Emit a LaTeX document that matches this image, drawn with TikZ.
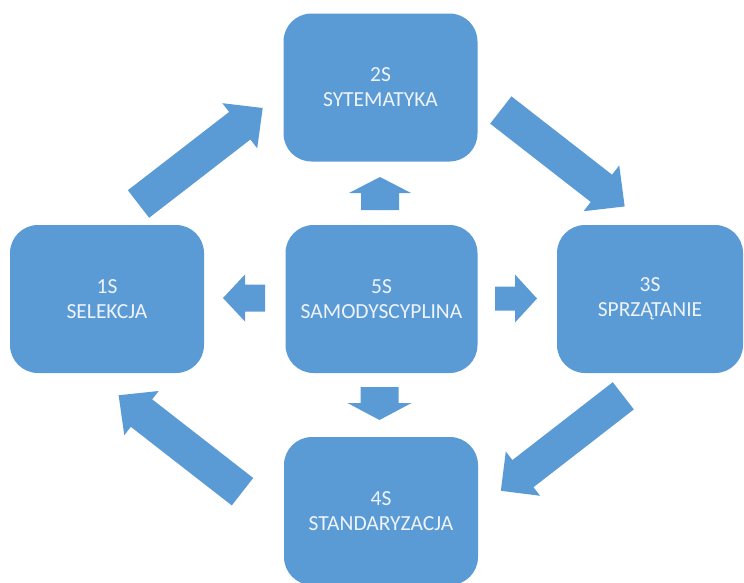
\documentclass[tikz,border=0pt]{standalone}
\usepackage{fontspec}
\setmainfont{Carlito}
\definecolor{boxblue}{RGB}{91,155,213}
\definecolor{labelwhite}{RGB}{238,243,250}
\tikzset{
  sbox/.style={fill=boxblue, rounded corners=28pt, minimum width=194pt,
    minimum height=148pt, inner sep=0pt, align=center, text=labelwhite,
    font=\fontsize{21.5}{25}\selectfont},
  % block arrow along +x: total length / body half-width / head half-width / head length
  pics/blockarrow/.style args={#1/#2/#3/#4}{code={
    \fill[boxblue] (0,-#2) -- ({#1-#4},-#2) -- ({#1-#4},-#3) -- (#1,0)
      -- ({#1-#4},#3) -- ({#1-#4},#2) -- (0,#2) -- cycle;}}
}
\begin{document}
\begin{tikzpicture}[x=1pt,y=-1pt]
  \path[use as bounding box, fill=white] (0,0) rectangle (744,582);
  \clip (0,0) rectangle (744,582);

  % the five steps
  \node[sbox] (s2) at (380.5,87.5) {2S\\SYTEMATYKA};
  \node[sbox] (s1) at (107,299) {1S\\SELEKCJA};
  \node[sbox, minimum width=192pt] (s5) at (381.5,299) {5S\\SAMODYSCYPLINA};
  \node[sbox, minimum width=186pt] (s3) at (650,299) {3S\\SPRZĄTANIE};
  \node[sbox] (s4) at (381,511) {4S\\STANDARYZACJA};

  % cycle arrows between the outer steps
  \pic[rotate=37.7]   at (138.5,204)   {blockarrow=157/17.4/28.5/29};
  \pic[rotate=-37.9]  at (500.8,110)   {blockarrow=157/17.3/29/29.5};
  \pic[rotate=-142.2] at (623.3,395.8) {blockarrow=155/17.2/28/28};
  \pic[rotate=142.1]  at (242.5,491.7) {blockarrow=157/17.4/28/29};

  % arrows from the centre step outwards
  \pic[rotate=90]  at (380,210)   {blockarrow=33/19/31/16};
  \pic[rotate=-90] at (379.5,387) {blockarrow=33/19/32/17};
  \pic[rotate=180] at (265,298)   {blockarrow=42/13.5/23.5/22};
  \pic[rotate=0]   at (495,298.5) {blockarrow=42/12/24/22};
\end{tikzpicture}
\end{document}
